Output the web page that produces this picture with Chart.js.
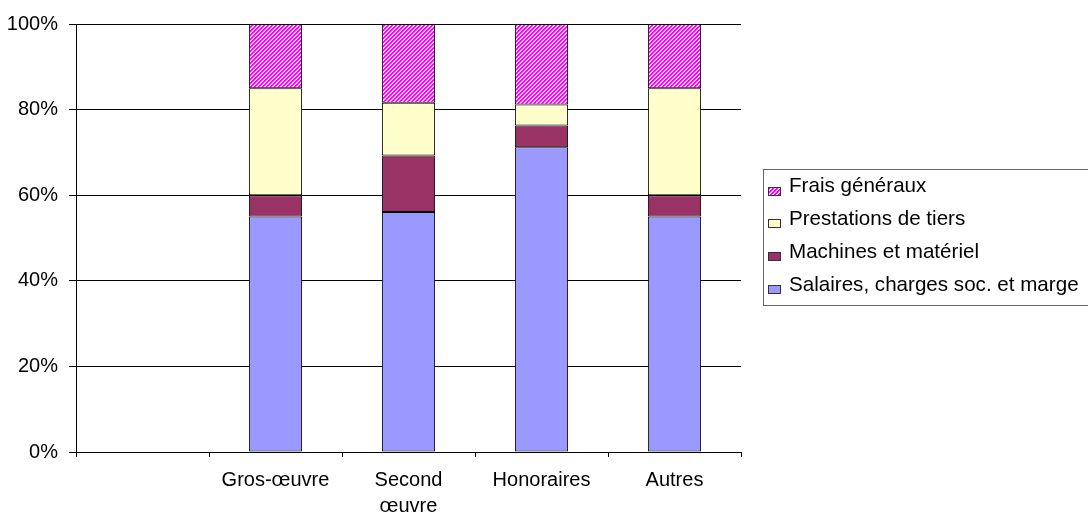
<!DOCTYPE html>
<html>
<head>
<meta charset="utf-8">
<script src="https://cdn.jsdelivr.net/npm/chart.js@4"></script>
<style>
  html, body { margin: 0; padding: 0; background: #fff; overflow: hidden; }
  canvas { display: block; }
</style>
</head>
<body>
<canvas id="chart" width="1088" height="516"></canvas>
<script>
// Cost structure per work category (shares in %, stacked to 100 %)
const categories  = ['', 'Gros-œuvre', ['Second', 'œuvre'], 'Honoraires', 'Autres'];
const salaires    = [null, 55.0, 56.1, 71.2, 55.0];
const machines    = [null,  5.0, 13.2,  5.1,  5.0];
const prestations = [null, 25.0, 12.3,  4.9, 25.0];
const frais       = [null, 15.0, 18.4, 18.8, 15.0];
const seriesNames = ['Salaires, charges soc. et marge', 'Machines et matériel', 'Prestations de tiers', 'Frais généraux'];
const yTickValues = [0, 20, 40, 60, 80, 100];

const FONT = '"Liberation Sans", Arial, Helvetica, sans-serif';
const canvas = document.getElementById('chart');
const ctx = canvas.getContext('2d');

// Magenta upward-diagonal hatch used for the overhead series
function hatchPattern() {
  const p = document.createElement('canvas');
  p.width = 4; p.height = 4;
  const g = p.getContext('2d');
  g.fillStyle = '#ffffff';
  g.fillRect(0, 0, 4, 4);
  for (let y = 0; y < 4; y++) {
    for (let x = 0; x < 4; x++) {
      const k = (x + y) % 4;
      if (k === 0 || k === 1) { g.fillStyle = '#ff00ff'; g.fillRect(x, y, 1, 1); }
      else if (k === 2) { g.fillStyle = '#ff99ff'; g.fillRect(x, y, 1, 1); }
    }
  }
  return ctx.createPattern(p, 'repeat');
}

const seriesColors = ['#9999ff', '#993366', '#ffffcc', hatchPattern()];
const seriesData = [salaires, machines, prestations, frais];

// Boxed legend on the right, listed top-down in reverse stacking order
const boxLegend = {
  id: 'boxLegend',
  afterDraw(chart) {
    const c = chart.ctx;
    c.save();
    c.strokeStyle = '#666666';
    c.lineWidth = 1;
    c.strokeRect(763.5, 169.5, 340, 136);
    c.font = '20.6px ' + FONT;
    c.textBaseline = 'middle';
    c.textAlign = 'left';
    const items = chart.data.datasets.slice().reverse();
    items.forEach((ds, i) => {
      const mid = 186.5 + i * 32.8;
      const top = Math.round(mid);
      c.fillStyle = ds.backgroundColor;
      c.fillRect(768, top, 13, 9);
      c.strokeStyle = '#333333';
      c.strokeRect(768.5, top + 0.5, 12, 8);
      c.fillStyle = '#000000';
      c.fillText(ds.label, 789, mid);
    });
    c.restore();
  }
};

new Chart(ctx, {
  type: 'bar',
  data: {
    labels: categories,
    datasets: seriesNames.map((name, i) => ({
      label: name,
      data: seriesData[i],
      backgroundColor: seriesColors[i],
      borderColor: '#000000',
      borderWidth: 1,
      borderSkipped: false,
      barPercentage: 0.4,
      categoryPercentage: 1.0
    }))
  },
  options: {
    responsive: false,
    animation: false,
    events: [],
    layout: { padding: { top: 24, right: 347, left: 0, bottom: 0 } },
    plugins: {
      legend: { display: false },
      tooltip: { enabled: false }
    },
    scales: {
      x: {
        stacked: true,
        offset: true,
        grid: {
          offset: true,
          drawOnChartArea: true,
          color: (c) => c.index === categories.length ? '#808080' : 'rgba(0,0,0,0)',
          tickColor: '#000000',
          tickLength: 5,
          lineWidth: 1
        },
        border: { display: true, color: '#000000', width: 1 },
        ticks: {
          color: '#000000',
          font: { family: FONT, size: 20, lineHeight: 1.3 },
          padding: 10,
          maxRotation: 0,
          autoSkip: false
        },
        afterFit(scale) { scale.height = 64; }
      },
      y: {
        stacked: true,
        min: 0,
        max: 100,
        afterBuildTicks(scale) { scale.ticks = yTickValues.map(v => ({ value: v })); },
        grid: {
          color: '#000000',
          tickColor: '#000000',
          tickLength: 7,
          lineWidth: 1
        },
        border: { display: true, color: '#000000', width: 1 },
        ticks: {
          color: '#000000',
          font: { family: FONT, size: 20 },
          padding: 11,
          callback: (v) => v + '%'
        },
        afterFit(scale) { scale.width = 76; }
      }
    }
  },
  plugins: [boxLegend]
});
</script>
</body>
</html>
